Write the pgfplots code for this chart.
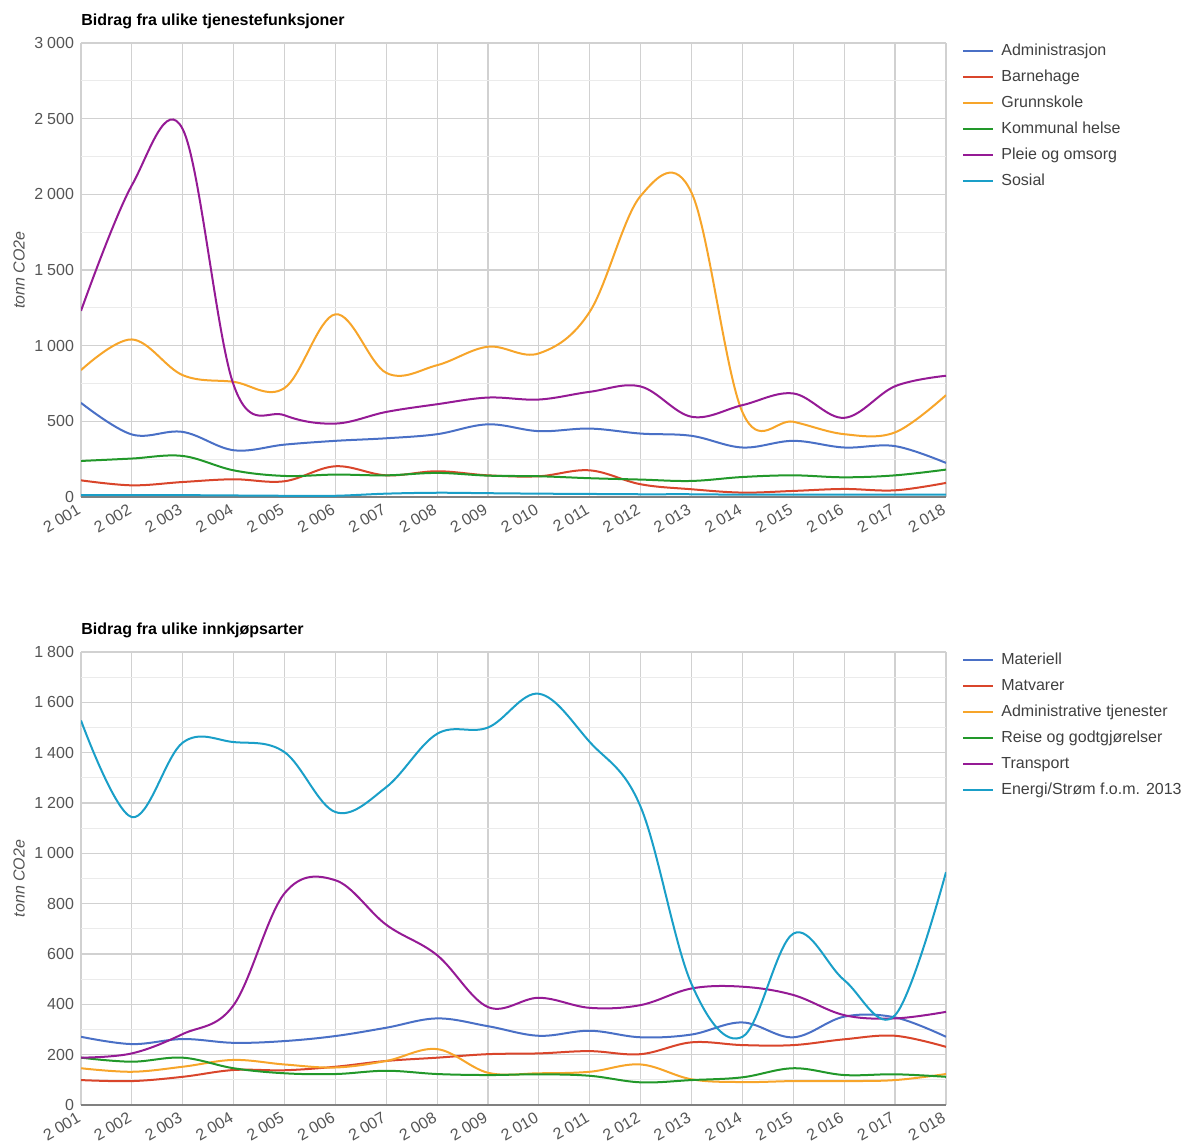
\documentclass[border=0pt]{standalone}
\usepackage{fontspec}
\setmainfont{Liberation Sans}
\usepackage{pgfplots}
\usepackage{pgfplotstable}
\pgfplotsset{compat=1.18}
\definecolor{cBlue}{HTML}{4A70C6}
\definecolor{cRed}{HTML}{D9452B}
\definecolor{cOrange}{HTML}{F7A52A}
\definecolor{cGreen}{HTML}{22982A}
\definecolor{cPurple}{HTML}{951A95}
\definecolor{cCyan}{HTML}{1A9FC8}
\definecolor{tickgray}{HTML}{555555}

\pgfplotstableread{
year adm barn grunn komm pleie sosial
2001 622 110 838 238 1230 12
2002 413 77 1041 254 2060 12
2003 430 99 805 271 2430 12
2004 309 117 761 176 740 10
2005 346 104 720 139 540 8
2006 371 203 1207 148 485 8
2007 388 143 820 143 562 22
2008 415 170 871 159 613 28
2009 480 143 993 141 657 25
2010 435 137 949 137 644 22
2011 452 176 1225 124 695 20
2012 419 84 1990 115 730 18
2013 404 51 2010 106 530 18
2014 327 29 560 132 607 15
2015 371 40 497 143 684 15
2016 327 53 415 130 523 15
2017 336 44 427 143 732 15
2018 225 93 673 181 801 15
}\topdata

\pgfplotstableread{
year mat matv admt reise transp energi
2001 271 99 146 188 188 1528
2002 242 95 132 172 205 1144
2003 262 112 152 188 282 1440
2004 247 139 179 146 397 1442
2005 254 138 161 126 841 1402
2006 274 152 149 123 893 1164
2007 307 175 175 136 716 1263
2008 344 188 222 123 595 1475
2009 313 202 128 119 389 1500
2010 275 205 126 122 426 1634
2011 295 214 132 116 386 1442
2012 269 202 161 90 397 1184
2013 280 249 102 99 463 480
2014 328 238 91 110 470 271
2015 269 238 95 146 437 681
2016 351 261 95 119 357 496
2017 348 275 99 122 344 357
2018 271 231 123 112 370 925
}\botdata

\pgfplotsset{
  gchart/.style={
    scale only axis,
    width=432.5pt,
    xmin=2001, xmax=2018,
    xtick={2001,...,2018},
    minor x tick num=0,
    minor y tick num=1,
    grid=both,
    major grid style={draw=black!18, line width=0.6pt},
    minor grid style={draw=black!8, line width=0.6pt},
    axis line style={draw=none},
    major tick length=0pt, minor tick length=0pt,
    /pgf/number format/assume math mode=true,
    /pgf/number format/1000 sep={\hspace{0.25em}},
    tick label style={font=\fontsize{8}{9.6}\selectfont, text=tickgray},
    yticklabel style={xshift=0pt},
    xticklabel style={xshift=2pt, yshift=-4pt, rotate=30, anchor=east},
    scaled ticks=false,
    extra y ticks={0},
    extra y tick labels={},
    extra y tick style={grid=major, major grid style={draw=black!50, line width=1pt}},
    ylabel={tonn CO2e},
    ylabel style={at={(rel axis cs:0,0.5)}, anchor=center, yshift=31pt, font=\itshape\fontsize{8}{9.6}\selectfont, text=tickgray},
    every axis title/.style={at={(rel axis cs:0,1)}, anchor=base west, yshift=8.5pt, inner sep=0pt, font=\bfseries\fontsize{8}{9.6}\selectfont},
    legend style={at={(rel axis cs:1,1)}, anchor=north west, xshift=8pt, yshift=0pt,
      draw=none, fill=none, inner sep=0pt,
      font=\fontsize{8}{9.6}\selectfont, text=black!75,
      nodes={inner sep=0pt, text height=6pt, text depth=1.5pt},
      row sep=5.5pt, column sep=3.5pt},
    legend cell align=left,
    legend image code/.code={\draw[#1, line width=1pt] (0pt,0pt) -- (15pt,0pt);},
    every axis plot/.append style={smooth, tension=0.6, line width=1pt, mark=none},
  }
}

\begin{document}
\begin{tikzpicture}
\useasboundingbox (0,0) rectangle (592pt,572pt);

\begin{axis}[gchart, at={(40.5pt,323.5pt)}, anchor=south west,
  height=227pt, ymin=0, ymax=3000, ytick={0,500,...,3000},
  title={Bidrag fra ulike tjenestefunksjoner}]
\addplot[cBlue] table[x=year, y=adm] {\topdata};
\addlegendentry{Administrasjon}
\addplot[cRed] table[x=year, y=barn] {\topdata};
\addlegendentry{Barnehage}
\addplot[cOrange] table[x=year, y=grunn] {\topdata};
\addlegendentry{Grunnskole}
\addplot[cGreen] table[x=year, y=komm] {\topdata};
\addlegendentry{Kommunal helse}
\addplot[cPurple] table[x=year, y=pleie] {\topdata};
\addlegendentry{Pleie og omsorg}
\addplot[cCyan] table[x=year, y=sosial] {\topdata};
\addlegendentry{Sosial}
\end{axis}

\begin{axis}[gchart, at={(40.5pt,19.5pt)}, anchor=south west,
  height=226.5pt, ymin=0, ymax=1800, ytick={0,200,...,1800},
  title={Bidrag fra ulike innkjøpsarter}]
\addplot[cBlue] table[x=year, y=mat] {\botdata};
\addlegendentry{Materiell}
\addplot[cRed] table[x=year, y=matv] {\botdata};
\addlegendentry{Matvarer}
\addplot[cOrange] table[x=year, y=admt] {\botdata};
\addlegendentry{Administrative tjenester}
\addplot[cGreen] table[x=year, y=reise] {\botdata};
\addlegendentry{Reise og godtgjørelser}
\addplot[cPurple] table[x=year, y=transp] {\botdata};
\addlegendentry{Transport}
\addplot[cCyan] table[x=year, y=energi] {\botdata};
\addlegendentry{Energi/Strøm f.o.m. 2013}
\end{axis}
\end{tikzpicture}
\end{document}
